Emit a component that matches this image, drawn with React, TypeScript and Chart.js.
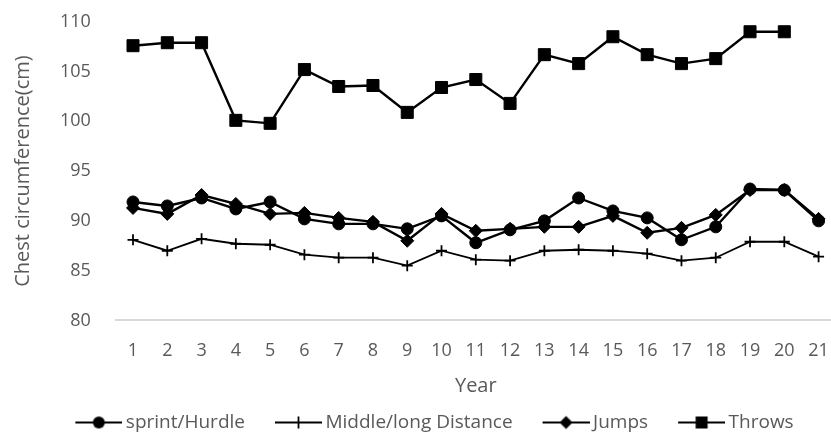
import React, { useEffect, useRef } from 'react';
import { Chart, registerables } from 'chart.js';

Chart.register(...registerables);

const years = ['1', '2', '3', '4', '5', '6', '7', '8', '9', '10', '11', '12', '13', '14', '15', '16', '17', '18', '19', '20', '21'];
const sprintHurdle = [91.9, 91.5, 92.3, 91.2, 91.9, 90.2, 89.7, 89.7, 89.2, 90.5, 87.8, 89.1, 90.0, 92.3, 91.0, 90.3, 88.1, 89.4, 93.2, 93.1, 90.0];
const middleLong = [88.1, 87.0, 88.2, 87.7, 87.6, 86.6, 86.3, 86.3, 85.5, 87.0, 86.1, 86.0, 87.0, 87.1, 87.0, 86.7, 86.0, 86.3, 87.9, 87.9, 86.4];
const jumps = [91.3, 90.7, 92.6, 91.7, 90.7, 90.8, 90.3, 89.9, 88.0, 90.7, 89.0, 89.2, 89.4, 89.4, 90.5, 88.8, 89.3, 90.6, 93.1, 93.1, 90.2];
const throws = [107.6, 107.9, 107.9, 100.1, 99.8, 105.2, 103.5, 103.6, 100.9, 103.4, 104.2, 101.8, 106.7, 105.8, 108.5, 106.7, 105.8, 106.3, 109.0, 109.0, null];

const seriesNames = ['sprint/Hurdle', 'Middle/long Distance', 'Jumps', 'Throws'];
const pointStyles = ['circle', 'cross', 'rectRot', 'rect'] as const;
const pointRadii = [6, 5.5, 6.5, 8.5];

const FONT = '"Open Sans", Lato, sans-serif';
const GREY = '#595959';

const BOX_W = 68; // legend pointStyleWidth
const IMG_W = BOX_W + 12;
const LINE_W = 47;

function makeLegendImg(style: string): HTMLCanvasElement {
  const c = document.createElement('canvas');
  c.width = IMG_W;
  c.height = 16;
  const ctx = c.getContext('2d')!;
  ctx.strokeStyle = '#000';
  ctx.fillStyle = '#000';
  ctx.lineWidth = 2.2;
  const x0 = IMG_W - LINE_W;
  ctx.beginPath();
  ctx.moveTo(x0, 8);
  ctx.lineTo(IMG_W, 8);
  ctx.stroke();
  const x = x0 + LINE_W / 2, y = 8;
  ctx.beginPath();
  if (style === 'circle') {
    ctx.arc(x, y, 6, 0, Math.PI * 2);
    ctx.fill();
  } else if (style === 'cross') {
    ctx.lineWidth = 1.8;
    ctx.moveTo(x, y - 6);
    ctx.lineTo(x, y + 6);
    ctx.stroke();
  } else if (style === 'rectRot') {
    ctx.moveTo(x, y - 6.5);
    ctx.lineTo(x + 6.5, y);
    ctx.lineTo(x, y + 6.5);
    ctx.lineTo(x - 6.5, y);
    ctx.closePath();
    ctx.fill();
  } else {
    ctx.rect(x - 6, y - 6, 12, 12);
    ctx.fill();
  }
  return c;
}

export default function App() {
  const ref = useRef<HTMLCanvasElement>(null);

  useEffect(() => {
    if (!ref.current) return;
    const legendImgs = pointStyles.map((s) => makeLegendImg(s));
    const values = [sprintHurdle, middleLong, jumps, throws];
    const chart = new Chart(ref.current, {
      type: 'line',
      data: {
        labels: years,
        datasets: values.map((v, i) => ({
          label: seriesNames[i],
          data: v,
          borderColor: '#000',
          backgroundColor: '#000',
          borderWidth: i === 1 ? 1.8 : 2.4,
          pointStyle: pointStyles[i],
          pointRadius: pointRadii[i],
          pointBorderWidth: i === 1 ? 1.8 : 1,
          pointBackgroundColor: '#000',
          pointBorderColor: '#000',
          tension: 0,
          spanGaps: false,
        })),
      },
      options: {
        animation: false,
        responsive: false,
        maintainAspectRatio: false,
        layout: { autoPadding: false, padding: { top: 0, right: 5, left: 1, bottom: 0 } },
        scales: {
          x: {
            offset: true,
            grid: { display: false, drawTicks: false },
            border: { display: true, color: '#d9d9d9', width: 2 },
            ticks: { color: GREY, font: { family: FONT, size: 18 }, padding: 20, maxRotation: 0, autoSkip: false },
            title: { display: true, text: 'Year', color: GREY, font: { family: FONT, size: 20 }, padding: { top: -8, bottom: 12 } },
          },
          y: {
            min: 80,
            max: 110,
            ticks: { stepSize: 5, color: GREY, font: { family: FONT, size: 18 }, padding: 25 },
            grid: { display: false, drawTicks: false },
            border: { display: false },
            title: { display: true, text: 'Chest circumference(cm)', color: GREY, font: { family: FONT, size: 20 }, padding: { top: 13, bottom: 0 } },
          },
        },
        plugins: {
          tooltip: { enabled: false },
          legend: {
            position: 'bottom',
            labels: {
              usePointStyle: true,
              pointStyleWidth: BOX_W,
              color: GREY,
              font: { family: FONT, size: 19 },
              padding: 3,
              generateLabels: (ch: any) =>
                Chart.defaults.plugins.legend.labels.generateLabels(ch).map((l: any, i: number) => ({
                  ...l,
                  pointStyle: legendImgs[i],
                })),
            },
          },
        },
      },
    });
    return () => chart.destroy();
  }, []);

  return (
    <div style={{ position: 'fixed', left: 0, top: 0, width: 831, height: 433, overflow: 'hidden', background: '#fff' }}>
      <canvas
        ref={ref}
        width={852}
        height={456}
        style={{ position: 'absolute', left: -3, top: -14, width: 852, height: 456, display: 'block' }}
      />
    </div>
  );
}
